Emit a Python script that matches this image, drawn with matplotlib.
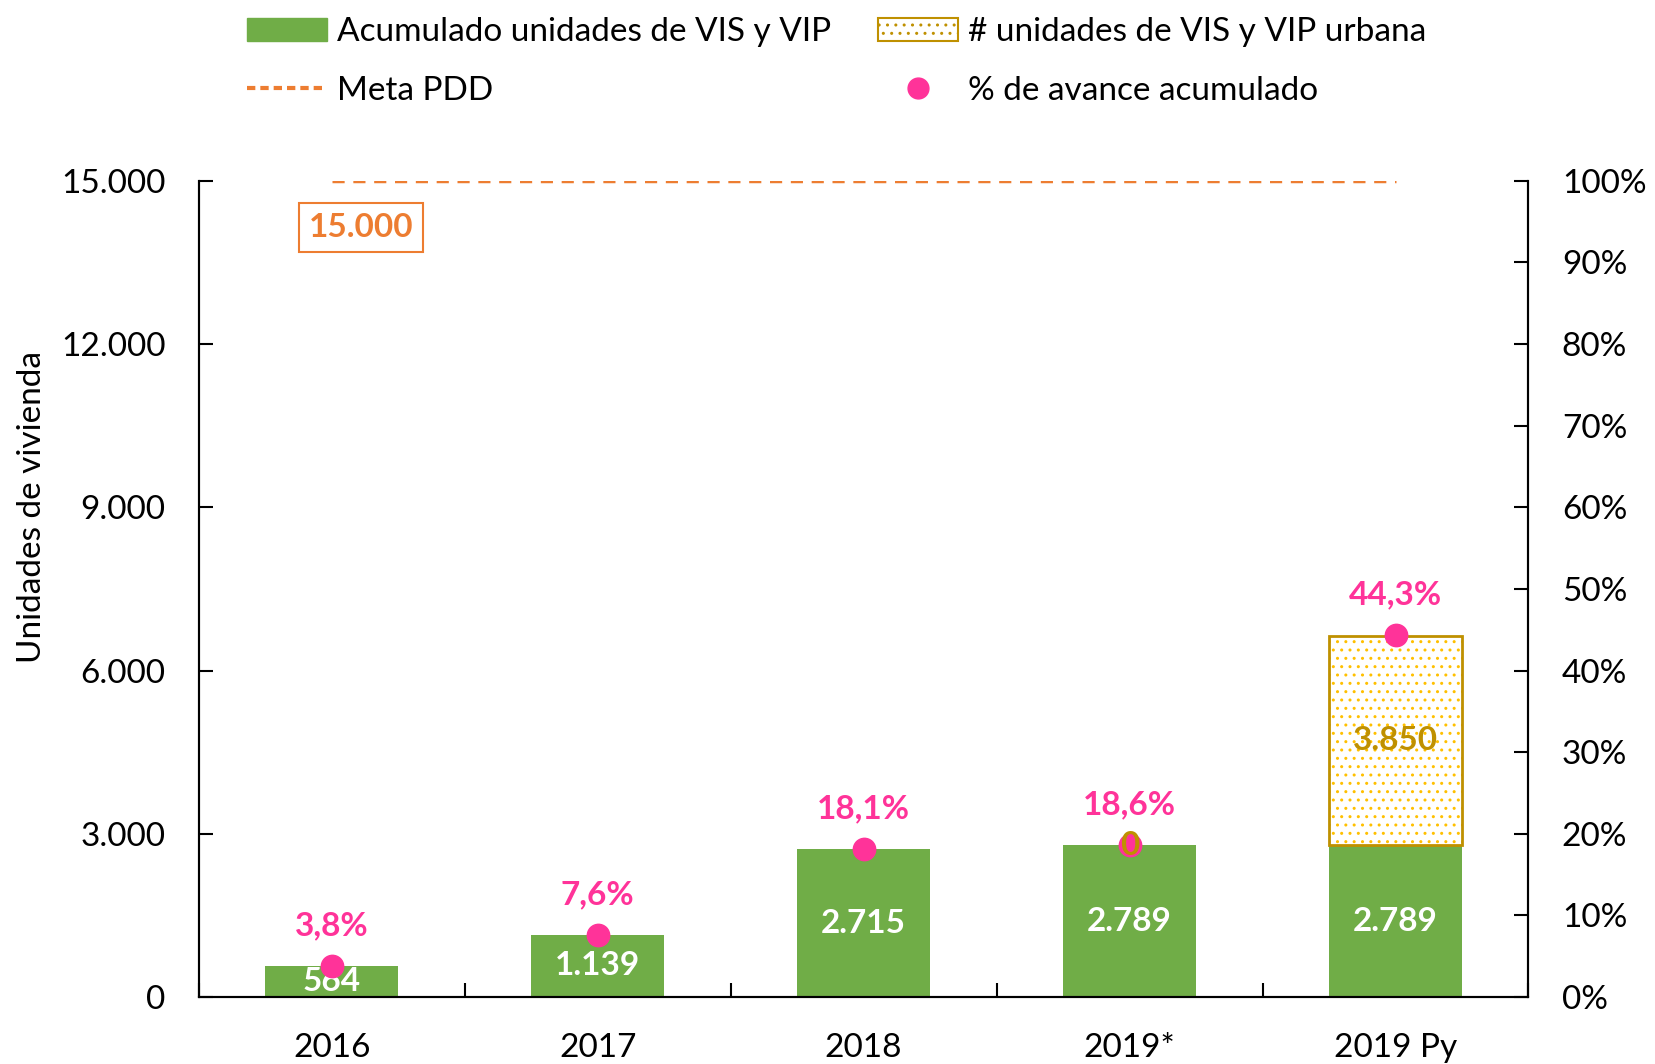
import numpy as np
import matplotlib.pyplot as plt
from matplotlib.patches import Patch
from matplotlib.lines import Line2D

plt.rcParams['font.family'] = ['Lato', 'DejaVu Sans']

years = ['2016', '2017', '2018', '2019*', '2019 Py']
acumulado = [564, 1139, 2715, 2789, 2789]
urbana = [0, 0, 0, 0, 3850]
avance = [3.8, 7.6, 18.1, 18.6, 44.3]
meta = 15000

green = '#70AD47'
gold = '#BF9000'
dotyel = '#FFC000'
pink = '#FF3399'
orange = '#ED7D31'

def fmt(v):
    return f'{v:,.0f}'.replace(',', '.')

fig = plt.figure(figsize=(16.56, 10.64), dpi=100)
ax = fig.add_axes([0.120, 0.063, 0.803, 0.767])
ax2 = ax.twinx()

x = np.arange(len(years))
ax.bar(x, acumulado, width=0.5, color=green, zorder=2)
# urbana units only where present
ux = [i for i in x if urbana[i] > 0]
uv = [urbana[i] for i in ux]
ub = [acumulado[i] for i in ux]
ax.bar(ux, uv, bottom=ub, width=0.5, color='white', edgecolor=dotyel,
       hatch='..', linewidth=0, zorder=2)
ax.bar(ux, uv, bottom=ub, width=0.5, fill=False, edgecolor=gold,
       linewidth=2, zorder=3)

ax.plot([x[0], x[-1]], [meta, meta], color=orange, ls=(0, (3.5, 2.5)), lw=2.5, zorder=3)
ax.text(0.11, 14150, fmt(meta), color=orange, fontsize=24, fontweight='bold',
        ha='center', va='center',
        bbox=dict(boxstyle='square,pad=0.3', fc='white', ec=orange, lw=1.5))

for i in x:
    ax.text(i, acumulado[i] / 2, fmt(acumulado[i]), color='white', fontsize=24,
            fontweight='bold', ha='center', va='center', zorder=5)

ax2.scatter(x, avance, s=260, color=pink, zorder=4)
for i in x:
    ax2.annotate(f'{avance[i]:.1f}%'.replace('.', ','), (i, avance[i]),
                 xytext=(0, 29), textcoords='offset points', ha='center',
                 va='center', color=pink, fontsize=24, fontweight='bold')

# urbana labels (including the zero at 2019*), drawn above the dots
for i in [3, 4]:
    ax2.text(i, acumulado[i] + urbana[i] / 2, fmt(urbana[i]), color=gold, fontsize=24,
             fontweight='bold', ha='center', va='center', zorder=6,
             transform=ax.transData)

ax.set_xlim(-0.5, len(years) - 0.5)
ax.set_ylim(0, 15000)
ax.set_yticks(np.arange(0, 15001, 3000))
ax.set_yticklabels([fmt(v) for v in np.arange(0, 15001, 3000)], fontsize=24)
ax2.set_ylim(0, 100)
ax2.set_yticks(np.arange(0, 101, 10))
ax2.set_yticklabels([f'{v}%' for v in range(0, 101, 10)], fontsize=24)

ax.set_xticks(x)
ax.set_xticklabels(years, fontsize=24)
ax.tick_params(axis='x', length=0, pad=26)
ax.set_xticks(np.arange(-0.5, len(years), 1), minor=True)
ax.tick_params(axis='x', which='minor', direction='in', length=10, width=1.5)
ax.tick_params(axis='y', direction='in', length=10, width=1.5, pad=24)
ax2.tick_params(axis='y', direction='in', length=10, width=1.5, pad=24)

for a in (ax, ax2):
    a.spines['top'].set_visible(False)
    for s in ('left', 'right', 'bottom'):
        a.spines[s].set_linewidth(1.5)

ax.set_ylabel('Unidades de vivienda', fontsize=24, va='center')
ax.yaxis.set_label_coords(-0.125, 0.60)

handles = [
    Patch(facecolor=green, edgecolor=green),
    Line2D([0], [0], color=orange, ls=(0, (2, 1.2)), lw=3),
    Patch(facecolor='white', edgecolor=gold, hatch='..', lw=1.5),
    Line2D([0], [0], marker='o', ls='none', color=pink, markersize=15),
]
labels = ['Acumulado unidades de VIS y VIP', 'Meta PDD',
          '# unidades de VIS y VIP urbana', '% de avance acumulado']
fig.legend(handles, labels, loc='upper center', bbox_to_anchor=(0.505, 1.012),
           ncol=2, frameon=False, fontsize=24, handlelength=2.4,
           handletextpad=0.3, columnspacing=1.4, labelspacing=0.85)

fig.savefig('out.png', dpi=100)
